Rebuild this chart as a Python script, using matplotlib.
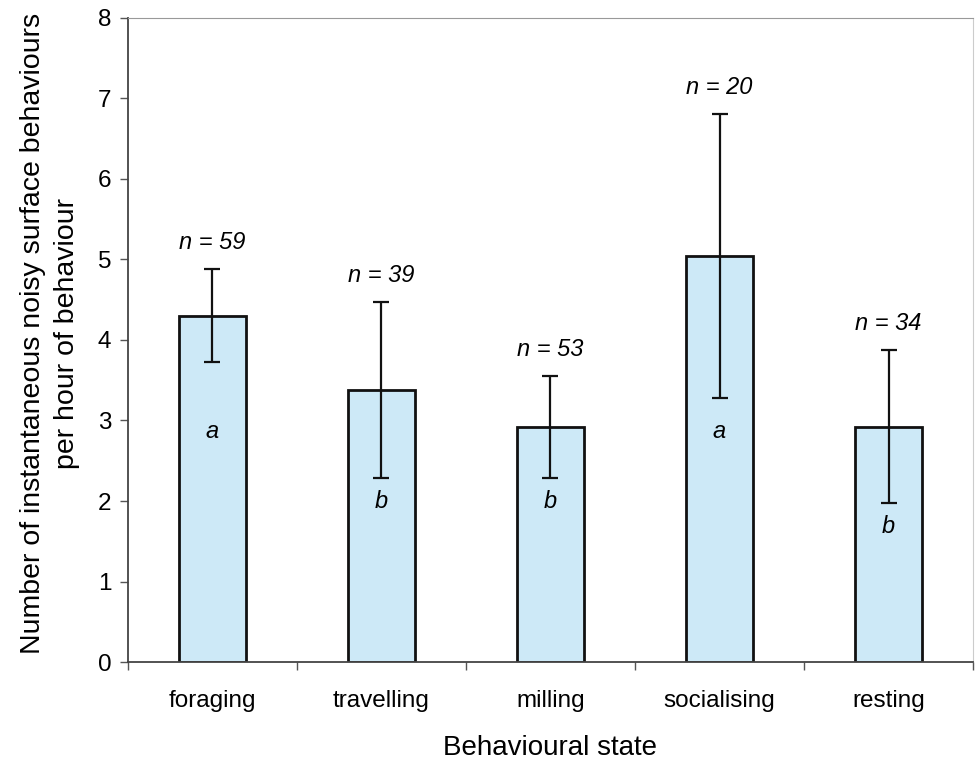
import numpy as np
import matplotlib.pyplot as plt

plt.rcParams['font.family'] = ['Liberation Sans', 'DejaVu Sans']

states = ['foraging', 'travelling', 'milling', 'socialising', 'resting']
means = [4.30, 3.38, 2.92, 5.04, 2.92]
errors = [0.58, 1.09, 0.63, 1.76, 0.95]
n_labels = ['n = 59', 'n = 39', 'n = 53', 'n = 20', 'n = 34']
groups = ['a', 'b', 'b', 'a', 'b']
group_y = [2.86, 2.0, 2.0, 2.86, 1.68]

fig = plt.figure(figsize=(9.76, 7.69), dpi=100)
ax = fig.add_axes([0.131, 0.139, 0.866, 0.838])

x = np.arange(len(states))
ax.bar(x, means, width=0.4, color='#cde9f7', edgecolor='#111111', linewidth=2.0, zorder=2)
ax.errorbar(x, means, yerr=errors, fmt='none', ecolor='#111111', elinewidth=1.6,
            capsize=5.5, capthick=1.6, zorder=3)

for xi, m, e, lab in zip(x, means, errors, n_labels):
    ax.annotate(lab, (xi, m + e), xytext=(0, 19), textcoords='offset points',
                ha='center', va='center', fontsize=17, style='italic')
for xi, g, gy in zip(x, groups, group_y):
    ax.text(xi, gy, g, ha='center', va='center', fontsize=17, style='italic')

ax.set_xlim(-0.5, len(states) - 0.5)
ax.set_ylim(0, 8)
ax.set_yticks(range(0, 9))
ax.set_xticks(x)
ax.set_xticklabels(states)
ax.set_xticks(np.arange(-0.5, len(states)), minor=True)
ax.tick_params(axis='x', which='major', length=0, pad=20, labelsize=17.5)
ax.tick_params(axis='x', which='minor', length=6, width=1, color='#555555')
ax.tick_params(axis='y', length=6, width=1, color='#555555', labelsize=17.5, pad=6)

ax.spines['left'].set_color('#444444')
ax.spines['bottom'].set_color('#444444')
ax.spines['left'].set_linewidth(1.3)
ax.spines['bottom'].set_linewidth(1.3)
ax.spines['top'].set_color('#999999')
ax.spines['right'].set_color('#cccccc')

ax.set_xlabel('Behavioural state', fontsize=20, labelpad=17)
ax.set_ylabel('Number of instantaneous noisy surface behaviours\nper hour of behaviour',
              fontsize=20.5, linespacing=1.4)
ax.yaxis.set_label_coords(-0.057, 0.51)

fig.savefig('out.png', dpi=100)
